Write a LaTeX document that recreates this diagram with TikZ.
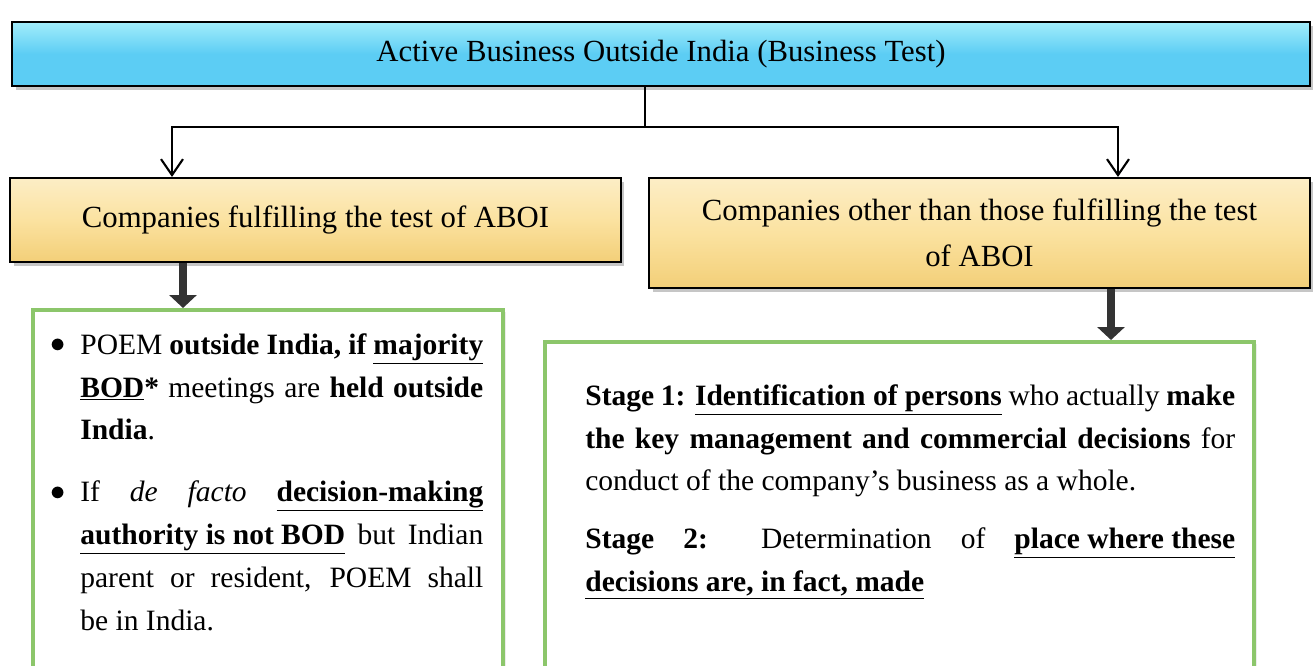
\documentclass[tikz,border=0pt]{standalone}
\usepackage{fontspec}
\setmainfont{Liberation Serif}
\usepackage{xcolor}
\usetikzlibrary{arrows.meta, positioning, shadows, calc}
\definecolor{skyblue}{HTML}{5CCDF4}
\definecolor{skytop}{HTML}{A2EDFB}
\definecolor{gold}{HTML}{FBE2A0}
\definecolor{goldedge}{HTML}{F3CF78}
\definecolor{leaf}{HTML}{8CC66B}
\newcommand{\dotmark}{\makebox[0.6cm][l]{\raisebox{0.1ex}{$\bullet$}}}

\begin{document}
\begin{tikzpicture}[
    x=0.02cm, y=-0.02cm,
    head/.style={
      rectangle, draw=black, line width=1.2pt,
      align=center, font=\fontsize{17.5}{26.5}\selectfont,
      drop shadow={shadow xshift=2pt, shadow yshift=-2pt, opacity=0.45}
    },
    tbox/.style={
      rectangle, draw=leaf, line width=2pt, fill=white,
      drop shadow={shadow xshift=1.5pt, shadow yshift=-1.5pt, opacity=0.15}
    },
    body/.style={
      anchor=north west, inner sep=0pt, align=justify,
      font=\fontsize{16.8}{24.4}\selectfont
    },
    arr/.style={-{Straight Barb[length=3.2mm, width=4.4mm, line width=1.2pt]}, line width=1.2pt},
    fat/.style={-{Triangle[length=2.6mm, width=5.4mm]}, line width=4.4pt, draw=black!80}
  ]
  \useasboundingbox (0,0) rectangle (1313,666);

  \node[head, top color=skytop, bottom color=skyblue, middle color=skyblue,
        minimum width=25.96cm, minimum height=1.28cm] (abo) at (661,54)
        {Active Business Outside India (Business Test)};
  \node[head, top color=gold!60, bottom color=goldedge, middle color=gold,
        minimum width=12.22cm, minimum height=1.68cm] (fulfil) at (315.5,220)
        {Companies fulfilling the test of ABOI};
  \node[head, top color=gold!60, bottom color=goldedge, middle color=gold,
        minimum width=13.22cm, minimum height=2.2cm] (other) at (979.5,233)
        {Companies other than those fulfilling the test\\ of ABOI};

  \node[tbox, minimum width=9.4cm, minimum height=7.4cm, anchor=north] (poem) at (268,308) {};
  \node[tbox, minimum width=14.18cm, minimum height=6.8cm, anchor=north] (stage) at (899.5,340) {};

  % bullet list, left panel
  \node[body, text width=8.66cm] (poemtxt) at (50,333)
  {\hangindent=0.6cm\hangafter=1\noindent\dotmark POEM
   \textbf{outside India, if \underline{majority}}\linebreak
   \textbf{\underline{BOD}}\textbf{*} meetings are \textbf{held outside}\linebreak
   \textbf{India}.\par\vspace{0.38cm}
   \hangindent=0.6cm\hangafter=1\noindent\dotmark If
   \textit{de facto} \textbf{\underline{decision-making}}\linebreak
   \textbf{\underline{authority is not BOD}} but Indian\linebreak
   parent or resident, POEM shall\linebreak
   be in India.\par};

  % two stages, right panel
  \node[body, text width=13cm] (stagetxt) at (585,384)
  {\noindent\textbf{Stage 1: \underline{Identification of persons}} who actually \textbf{make}\linebreak
   \textbf{the key management and commercial decisions} for\linebreak
   conduct of the company's business as a whole.\par\vspace{0.29cm}
   \noindent\textbf{Stage 2:} Determination of \textbf{\underline{place where these}}\linebreak
   \textbf{\underline{decisions are, in fact, made}}\par};

  \coordinate (fork) at (645,127);
  \draw[line width=1.2pt] (abo.south -| 645,0) -- (fork);
  \draw[arr] (fork) -| (fulfil.north -| 172,0);
  \draw[arr] (fork) -| (other.north -| 1118,0);
  \draw[fat] (fulfil.south -| 183,0) -- (poem.north -| 183,0);
  \draw[fat] (other.south -| 1111,0) -- (stage.north -| 1111,0);
\end{tikzpicture}
\end{document}
